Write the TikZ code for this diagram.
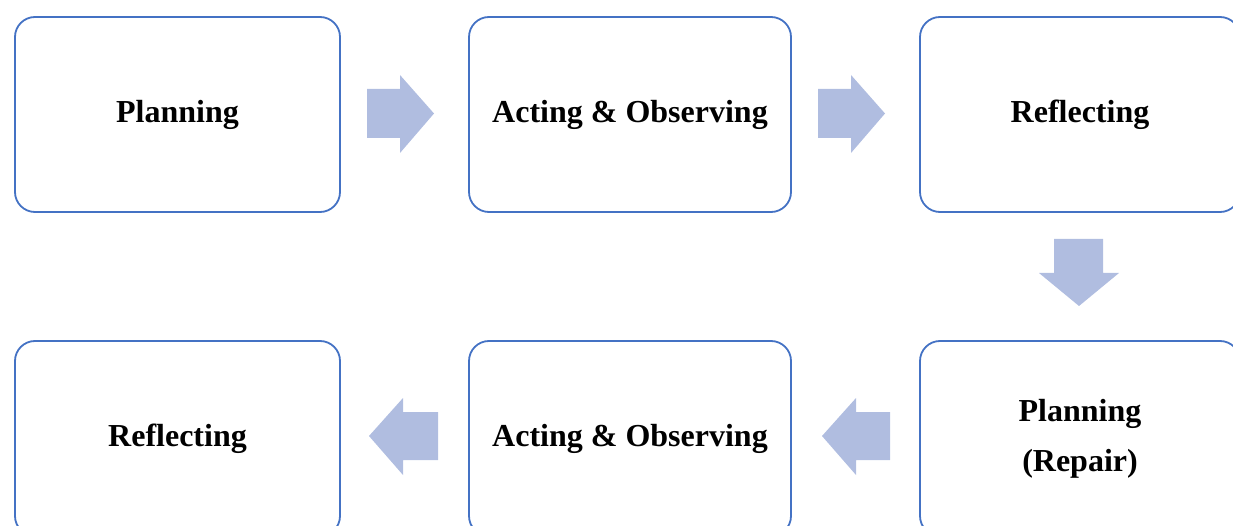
\documentclass[tikz,border=0pt]{standalone}
\usepackage{fontspec}
\setmainfont{Liberation Serif}
\definecolor{boxblue}{HTML}{4472C4}
\definecolor{arrowfill}{HTML}{B0BDE0}
\begin{document}
\begin{tikzpicture}[x=1pt,y=-1pt,
  stage/.style={draw=boxblue, line width=1.8pt, rounded corners=20pt, fill=white,
    minimum height=195pt, align=center, text=black,
    font=\fontsize{32}{50}\selectfont\bfseries},
  blockarrow/.style={fill=arrowfill, draw=none}]
\useasboundingbox (0,0) rectangle (1233,526);
\clip (0,0) rectangle (1233,526);
% top row
\node[stage, minimum width=325pt] (p1) at (177.5,114.5) {Planning};
\node[stage, minimum width=322pt] (a1) at (630,114.5) {Acting \& Observing};
\node[stage, minimum width=320pt] (r1) at (1080,114.5) {Reflecting};
% bottom row
\node[stage, minimum width=325pt] (r2) at (177.5,438.5) {Reflecting};
\node[stage, minimum width=322pt] (a2) at (630,438.5) {Acting \& Observing};
\node[stage, minimum width=320pt] (p2) at (1080,438.5) {Planning\\(Repair)};
% block arrows
\fill[blockarrow] (367,89) -- (400,89) -- (400,75) -- (434,113.5) -- (400,153) -- (400,138) -- (367,138) -- cycle;
\fill[blockarrow] (818,89) -- (851,89) -- (851,75) -- (885,113.5) -- (851,153) -- (851,138) -- (818,138) -- cycle;
\fill[blockarrow] (1054,239) -- (1103,239) -- (1103,273) -- (1119,273) -- (1079,306) -- (1039,273) -- (1054,273) -- cycle;
\fill[blockarrow] (890,412) -- (856,412) -- (856,398) -- (822,436) -- (856,475) -- (856,460) -- (890,460) -- cycle;
\fill[blockarrow] (438,412) -- (403,412) -- (403,398) -- (369,436) -- (403,475) -- (403,460) -- (438,460) -- cycle;
\end{tikzpicture}
\end{document}
